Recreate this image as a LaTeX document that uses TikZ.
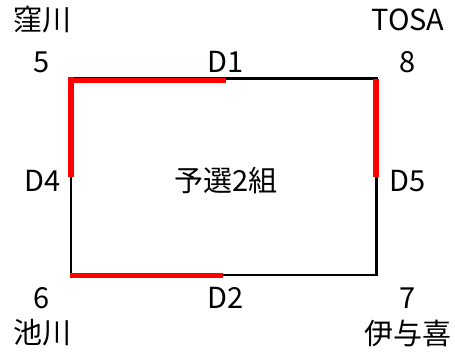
\documentclass[tikz,border=0pt]{standalone}
\usepackage{fontspec}
\setmainfont{Noto Sans CJK JP}
\begin{document}
\begin{tikzpicture}[x=1pt,y=-1pt,
  edge/.style={line width=2.5pt},
  win/.style={red,line width=5.5pt},
  lab/.style={font=\fontsize{29}{33}\selectfont,inner sep=0pt}]
\useasboundingbox (0,0) rectangle (455,351);
% corners of the group
\coordinate (c5) at (71,78.7);
\coordinate (c8) at (376.7,78.7);
\coordinate (c7) at (376.7,275);
\coordinate (c6) at (71,275);
\draw [edge] (c5) -- (c8) -- (c7) -- (c6) -- cycle;
% won sides
\coordinate (r1a) at (68.3,80.3);
\coordinate (r1b) at (226,80.3);
\coordinate (r4a) at (71,77.3);
\coordinate (r4b) at (71,177);
\coordinate (r5a) at (376,79);
\coordinate (r5b) at (376,177);
\coordinate (r2a) at (70,275.7);
\coordinate (r2b) at (223,275.7);
\draw [win] (r1a) -- (r1b);
\draw [win] (r4a) -- (r4b);
\draw [win] (r5a) -- (r5b);
\draw [win] (r2a) -- (r2b);
% labels
\node [lab] (t5) at (42,20) {窪川};
\node [lab] (n5) at (42,62) {5};
\node [lab] (d1) at (226,62) {D1};
\node [lab] (n8) at (408,62) {8};
\node [lab] (t8) at (408,20) {TOSA};
\node [lab] (d4) at (43,181) {D4};
\node [lab] (g2) at (226,181) {予選2組};
\node [lab] (d5) at (408,181) {D5};
\node [lab] (n6) at (42,298) {6};
\node [lab] (d2) at (226,298) {D2};
\node [lab] (n7) at (408,298) {7};
\node [lab] (t6) at (42,333) {池川};
\node [lab] (t7) at (408,333) {伊与喜};
\end{tikzpicture}
\end{document}
